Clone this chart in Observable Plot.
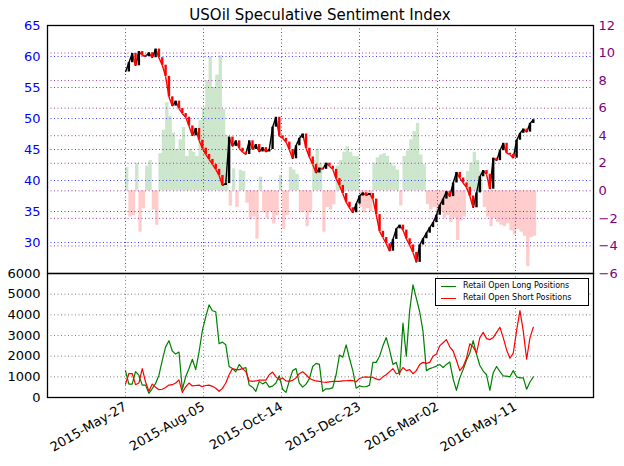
<!DOCTYPE html>
<html><head><meta charset="utf-8">
<script src="https://cdn.jsdelivr.net/npm/d3@7"></script>
<script src="https://cdn.jsdelivr.net/npm/@observablehq/plot@0.6"></script>
<style>
body{margin:0;background:#fff;font-family:"DejaVu Sans",sans-serif;}
#wrap{position:relative;width:624px;height:466px;overflow:hidden;background:#fff;}
.layer{position:absolute;left:0;}
#title{position:absolute;left:47px;width:546px;top:5px;text-align:center;font-size:15px;line-height:20px;color:#000;}
#legend{position:absolute;left:435px;top:278px;width:152px;height:26px;border:1px solid #000;background:#fff;font-size:8px;}
#legend .row{position:absolute;left:0;height:12px;line-height:12px;}
#legend .sw{position:absolute;left:5px;top:5.5px;width:15px;height:0;border-top:1.2px solid;}
#legend .tx{position:absolute;left:27px;top:0;white-space:nowrap;}
</style></head><body><div id="wrap"></div>
<script>
const startDate = "2015-05-27";
const stepDays = 3;
const closePrice = [57.5,59.0,60.5,58.5,60.8,60.2,60.0,60.6,59.8,61.2,
59.8,58.6,56.8,53.5,52.0,52.8,51.6,50.8,50.2,48.8,
47.2,48.4,46.5,45.2,44.2,43.4,42.6,41.8,40.8,39.2,
39.5,47.0,45.5,46.4,45.2,44.6,44.2,46.4,45.0,45.8,
44.6,45.3,44.6,45.0,48.6,50.2,47.2,46.8,46.2,45.0,
43.5,45.6,46.8,47.5,45.2,43.8,42.6,41.2,42.0,41.8,
42.8,42.3,41.8,40.3,39.2,37.9,36.5,35.6,34.8,36.2,
37.5,38.0,37.6,37.9,37.0,34.5,31.8,30.8,29.8,28.6,
30.5,32.2,32.8,32.0,30.6,29.6,28.4,26.8,29.6,30.6,
31.5,32.4,33.2,34.4,36.0,37.0,38.2,37.4,39.6,41.3,
40.4,39.6,38.9,37.5,35.6,38.0,40.6,41.6,41.0,38.6,
43.6,43.2,44.8,46.0,44.4,44.2,43.6,46.5,47.6,48.3,
47.8,49.2,49.8];
const sentiment = [1.7,-1.9,-1.8,2.0,-3.0,-1.3,1.8,2.2,-1.4,-2.5,
2.7,4.4,6.4,5.4,4.2,3.0,3.7,4.6,2.5,3.0,
2.8,2.5,5.1,6.0,8.0,9.7,7.5,8.4,9.8,5.9,
4.0,-1.1,1.6,-1.2,1.5,1.4,-0.9,-2.1,-1.9,-3.5,
1.0,-1.6,-2.0,-1.5,-2.4,-1.8,1.1,-2.8,-1.8,1.7,
1.5,1.2,-1.6,-1.5,-2.6,-1.6,2.2,3.0,2.0,-3.0,
-1.2,-1.4,-1.0,1.8,2.2,2.8,3.2,2.8,2.5,2.5,
-1.2,-1.6,-1.3,-1.5,2.0,2.4,2.6,2.7,2.5,2.0,
1.8,1.5,-1.1,2.5,2.9,3.7,4.3,4.9,2.6,1.9,
-1.0,-1.4,-1.2,-1.6,-1.5,-2.0,-1.8,-2.3,-2.0,-3.6,
-2.2,-1.9,1.4,2.0,2.8,2.2,1.4,-1.2,-1.9,-2.6,
-2.0,-2.3,-2.5,-2.6,-2.4,-2.9,-3.2,-2.8,-3.0,-3.3,
-5.5,-3.4,-3.3];
const longPos = [1300,650,650,1250,1080,600,600,200,430,680,
1080,1800,2450,2750,2250,2100,2200,400,1000,1400,
1850,1350,2200,3250,3900,4480,4200,4150,2600,2680,
2550,1500,1400,1240,1600,1400,1450,600,500,300,
780,660,750,500,550,700,1050,400,250,800,
1300,1400,700,500,650,900,1500,1650,1600,300,
420,420,480,1100,2050,1950,2550,1900,1300,450,
560,520,520,600,1700,1700,2000,2500,2900,2300,
1600,1700,1100,3600,2000,4200,5450,4800,4150,3200,
1300,1400,1450,1520,1600,1450,1600,1720,900,350,
950,1350,1800,2150,2750,2100,1550,1280,1100,350,
1200,1500,1250,1050,1030,1000,1300,1000,950,950,
400,750,1000];
const shortPos = [650,1160,1160,620,700,1400,750,300,650,500,
380,400,480,600,620,700,850,250,520,700,
560,580,600,520,580,600,540,450,300,440,
700,1100,1400,1350,1350,1400,1250,800,780,800,
840,840,840,1100,1230,1000,850,950,800,780,
830,950,1150,1250,1100,930,850,800,780,750,
730,760,780,780,780,800,810,830,820,760,
920,980,1000,980,970,900,850,1000,1100,1250,
1400,1150,1200,1450,1300,1350,1150,1300,1600,1700,
1650,1700,2000,2100,2500,2650,2800,2450,2250,1800,
1300,1500,1900,2600,2450,2150,2900,3150,2850,2800,
2900,3150,3400,2900,2300,1900,2150,3250,4200,3200,
1850,2900,3400];
const tickLabels = ["2015-May-27","2015-Aug-05","2015-Oct-14","2015-Dec-23","2016-Mar-02","2016-May-11"];
const xDomainLabels = ["2015-Mar-18","2016-Jul-20"];
const priceTicks = [30,35,40,45,50,55,60,65];
const priceGrid = [30,35,40,45,50,55,60];
const sentTicks = [-6,-4,-2,0,2,4,6,8,10,12];
const sentGrid = [-4,-2,0,2,4,6,8,10];
const posTicks = [0,1000,2000,3000,4000,5000,6000];
const posGrid = [1000,2000,3000,4000,5000];
const titleText = "USOil Speculative Sentiment Index";
const legendItems = [["Retail Open Long Positions","green"],["Retail Open Short Positions","red"]];

const parseT = d3.utcParse("%Y-%b-%d");
const fmtT = d3.utcFormat("%Y-%b-%d");
const start = d3.utcParse("%Y-%m-%d")(startDate);
const dates = closePrice.map((_, i) => d3.utcDay.offset(start, i * stepDays));
const tickDates = tickLabels.map(parseT);
const xDomain = xDomainLabels.map(parseT);

const rows = dates.map((d, i) => ({date: d, next: d3.utcDay.offset(d, stepDays), close: closePrice[i], s: sentiment[i], long: longPos[i], short: shortPos[i]}));
const segs = rows.slice(1).map((r, k) => ({x1: rows[k].date, x2: r.date, y1: rows[k].close, y2: r.close, up: r.close >= rows[k].close}));

const W = 624, ML = 47, MR = 31, FS = 13;
const dots = "1,2.5";
const minus = d => String(d).replace("-", "\u2212");
const wrap = document.getElementById("wrap");

function place(el, top) { el.classList.add("layer"); el.style.top = top + "px"; wrap.appendChild(el); }

// sentiment layer (right axis)
const pB = Plot.plot({
  width: W, height: 278, marginTop: 25, marginBottom: 5, marginLeft: ML, marginRight: MR,
  style: {background: "transparent", color: "#800080", fontFamily: "DejaVu Sans", fontSize: "13px", overflow: "visible"},
  x: {type: "utc", domain: xDomain, axis: null},
  y: {domain: [-6, 12], label: null},
  marks: [
    Plot.rect(rows, {x1: "date", x2: "next", y1: 0, y2: "s", fill: d => d.s >= 0 ? "green" : "red", fillOpacity: 0.2}),
    Plot.ruleY(sentGrid, {stroke: "#a040a0", strokeDasharray: dots, strokeWidth: 1}),
    Plot.axisY(sentTicks, {anchor: "right", tickSize: 0, tickPadding: 5, label: null, fontSize: FS, tickFormat: minus})
  ]
});
place(pB, 0);

// price layer (left axis)
const pA = Plot.plot({
  width: W, height: 278, marginTop: 25, marginBottom: 5, marginLeft: ML, marginRight: MR,
  style: {background: "transparent", color: "blue", fontFamily: "DejaVu Sans", fontSize: "13px", overflow: "visible"},
  x: {type: "utc", domain: xDomain, axis: null},
  y: {domain: [25, 65], label: null},
  marks: [
    Plot.ruleY(priceGrid, {stroke: "#4040ff", strokeDasharray: dots, strokeWidth: 1}),
    Plot.ruleX(tickDates, {stroke: "#4040ff", strokeDasharray: dots, strokeWidth: 1}),
    Plot.link(segs, {x1: "x1", y1: "y1", x2: "x2", y2: "y2", stroke: d => d.up ? "black" : "red", strokeWidth: 1.4}),
    Plot.ruleX(segs, {x: "x2", y1: "y1", y2: "y2", stroke: d => d.up ? "black" : "red", strokeWidth: 2.4}),
    Plot.axisY(priceTicks, {anchor: "left", tickSize: 0, tickPadding: 7, label: null, fontSize: FS, tickFormat: d => String(d)}),
    Plot.frame({stroke: "black", strokeWidth: 1.3})
  ]
});
place(pA, 0);

// positions panel
const pC = Plot.plot({
  width: W, height: 198, marginTop: 5, marginBottom: 69, marginLeft: ML, marginRight: MR,
  style: {background: "transparent", color: "black", fontFamily: "DejaVu Sans", fontSize: "13px", overflow: "visible"},
  x: {type: "utc", domain: xDomain},
  y: {domain: [0, 6000], label: null},
  marks: [
    Plot.ruleY(posGrid, {stroke: "#808080", strokeDasharray: dots, strokeWidth: 1}),
    Plot.ruleX(tickDates, {stroke: "#808080", strokeDasharray: dots, strokeWidth: 1}),
    Plot.line(rows, {x: "date", y: "long", stroke: "green", strokeWidth: 1.2}),
    Plot.line(rows, {x: "date", y: "short", stroke: "red", strokeWidth: 1.2}),
    Plot.axisY(posTicks, {anchor: "left", tickSize: 0, tickPadding: 7, label: null, fontSize: FS, tickFormat: d => String(d)}),
    Plot.axisX(tickDates, {anchor: "bottom", tickSize: 0, tickPadding: 8, tickRotate: -30, tickFormat: fmtT, label: null, fontSize: FS}),
    Plot.frame({stroke: "black", strokeWidth: 1.3})
  ]
});
place(pC, 268);

const t = document.createElement("div"); t.id = "title"; t.textContent = titleText; wrap.appendChild(t);
const lg = document.createElement("div"); lg.id = "legend";
legendItems.forEach(([name, col], k) => {
  const r = document.createElement("div"); r.className = "row"; r.style.top = (1 + k * 12) + "px";
  const sw = document.createElement("div"); sw.className = "sw"; sw.style.borderColor = col;
  const tx = document.createElement("div"); tx.className = "tx"; tx.textContent = name;
  r.appendChild(sw); r.appendChild(tx); lg.appendChild(r);
});
wrap.appendChild(lg);
</script></body></html>
